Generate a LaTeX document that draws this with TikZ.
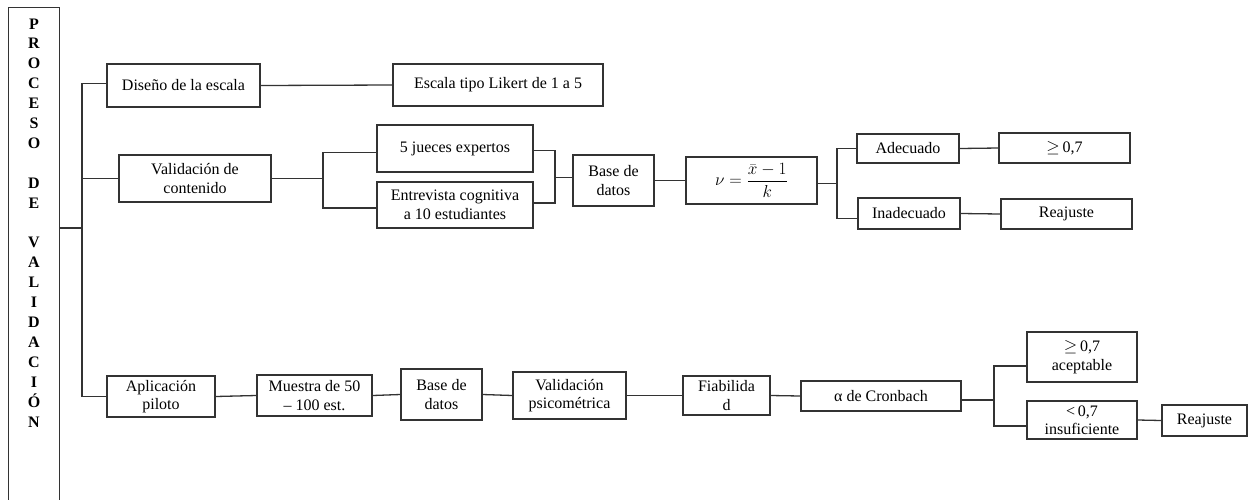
\documentclass[tikz,border=0pt]{standalone}
\usepackage{fontspec}
\setmainfont{Liberation Serif}
\begin{document}
\begin{tikzpicture}[x=1pt,y=-1pt,
  box/.style={draw=black!80, line width=1.3pt, fill=white, inner sep=1pt, align=center,
              font=\fontsize{16}{18.5}\selectfont\rmfamily},
  ln/.style={draw=black!80, line width=1.3pt},
  letter/.style={anchor=base, inner sep=0pt, font=\fontsize{16}{18}\selectfont\rmfamily\bfseries}]
\useasboundingbox (0,0) rectangle (1251,499);

% left title box
\node[draw=black!80, line width=1.3pt, anchor=north west, minimum width=51pt, minimum height=520pt, inner sep=0pt] (pv) at (8,7) {};
\foreach \l [count=\i] in {P,R,O,C,E,S,O,{},D,E,{},V,A,L,I,D,A,C,I,Ó,N}
  \node[letter] (L\i) at (34,{29+19.9*(\i-1)}) {\l};

% top branch
\node[box, minimum width=153pt, minimum height=43pt] (dis) at (183.5,85.5) {Diseño de la escala};
\node[box, minimum width=210pt, minimum height=42pt] (lik) at (498,85) {Escala tipo Likert de 1 a 5};

% second branch
\node[box, minimum width=152pt, minimum height=47pt] (val) at (195,178.5) {Validación de\\contenido};
\node[box, minimum width=156pt, minimum height=47pt] (jue) at (455,148.5) {5 jueces expertos};
\node[box, minimum width=156pt, minimum height=46pt] (ent) at (455,205) {Entrevista cognitiva\\a 10 estudiantes};
\node[box, minimum width=81pt, minimum height=51pt] (bd1) at (613.5,180.5) {Base de\\datos};
\node[box, minimum width=131pt, minimum height=47pt, font=\fontsize{17.5}{20}\selectfont] (frm) at (751.5,180.5) {$\displaystyle \nu=\frac{\bar{x}-1}{k}$};
\node[box, minimum width=102pt, minimum height=29pt] (ade) at (908,148.5) {Adecuado};
\node[box, minimum width=102pt, minimum height=31pt] (ina) at (909,213.5) {Inadecuado};
\node[box, minimum width=131pt, minimum height=30pt] (ge1) at (1064.5,148) {$\geq$\,0,7};
\node[box, minimum width=131pt, minimum height=30pt] (rea1) at (1066.5,214) {Reajuste};

% bottom branch
\node[box, minimum width=108pt, minimum height=41pt] (apl) at (161,396.5) {Aplicación\\piloto};
\node[box, minimum width=115pt, minimum height=41pt] (mue) at (314.5,395.5) {Muestra de 50\\– 100 est.};
\node[box, minimum width=81pt, minimum height=51pt] (bd2) at (441.5,394.5) {Base de\\datos};
\node[box, minimum width=113pt, minimum height=47pt] (psi) at (569.5,395.5) {Validación\\psicométrica};
\node[box, minimum width=87pt, minimum height=39pt] (fia) at (726.5,395.5) {Fiabilida\\d};
\node[box, minimum width=160pt, minimum height=30pt] (cro) at (881,396) {α de Cronbach};
\node[box, minimum width=110pt, minimum height=50pt] (acp) at (1082,357) {$\geq$\,0,7\\aceptable};
\node[box, minimum width=110pt, minimum height=38pt] (ins) at (1082,420) {<\,0,7\\insuficiente};
\node[box, minimum width=85pt, minimum height=31pt] (rea2) at (1204.5,420.5) {Reajuste};

% connectors
\coordinate (tk) at (82,228);
\coordinate (b1) at (323,0);
\coordinate (b2) at (555,0);
\coordinate (b3) at (837,0);
\coordinate (b4) at (994,0);

\draw[ln] (pv.east |- tk) -- (tk);
\draw[ln] ([yshift=2pt]dis.west) -- ([yshift=2pt]dis.west -| tk) -- (apl.west -| tk) -- (apl.west);
\draw[ln] (val.west) -- (val.west -| tk);
\draw[ln] (dis.east) -- (lik.west);

\draw[ln] (val.east) -- (val.east -| b1);
\draw[ln] ([yshift=-4pt]jue.west) -- ([yshift=-4pt]jue.west -| b1) -- ([yshift=-3pt]ent.west -| b1) -- ([yshift=-3pt]ent.west);
\draw[ln] ([yshift=-2pt]jue.east) -- ([yshift=-2pt]jue.east -| b2) -- ([yshift=2pt]ent.east -| b2) -- ([yshift=2pt]ent.east);
\draw[ln] ([yshift=3pt]bd1.west -| b2) -- ([yshift=3pt]bd1.west);
\draw[ln] (bd1.east) -- (frm.west);
\draw[ln] ([yshift=-3pt]frm.east) -- ([yshift=-3pt]frm.east -| b3);
\draw[ln] (ade.west) -- (ade.west -| b3) -- ([yshift=-5pt]ina.west -| b3) -- ([yshift=-5pt]ina.west);
\draw[ln] (ade.east) -- (ge1.west);
\draw[ln] (ina.east) -- (rea1.west);

\draw[ln] (apl.east) -- (mue.west);
\draw[ln] (mue.east) -- (bd2.west);
\draw[ln] (bd2.east) -- (psi.west);
\draw[ln] (psi.east) -- (fia.west);
\draw[ln] (fia.east) -- (cro.west);
\draw[ln] ([yshift=-4pt]cro.east) -- ([yshift=-4pt]cro.east -| b4);
\draw[ln] ([yshift=-9pt]acp.west) -- ([yshift=-9pt]acp.west -| b4) -- ([yshift=-6pt]ins.west -| b4) -- ([yshift=-6pt]ins.west);
\draw[ln] (ins.east) -- (rea2.west);
\end{tikzpicture}
\end{document}
